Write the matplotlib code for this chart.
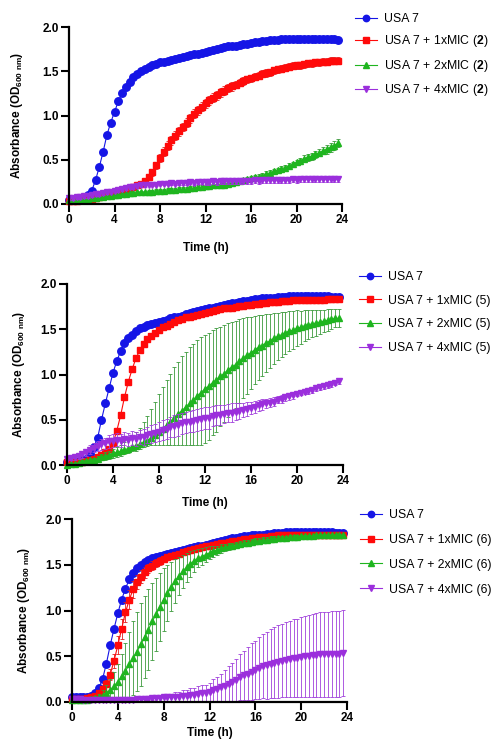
import matplotlib
matplotlib.use("Agg")
import matplotlib.pyplot as plt
from matplotlib.lines import Line2D
import numpy as np

plt.rcParams["font.family"] = ["Liberation Sans", "DejaVu Sans"]
plt.rcParams["mathtext.fontset"] = "custom"
plt.rcParams["mathtext.rm"] = "Liberation Sans"
plt.rcParams["mathtext.bf"] = "Liberation Sans:bold"
plt.rcParams["mathtext.default"] = "regular"

# sampling times (minutes), one reading every 20 min
TIME_MIN = [0, 20, 40, 60, 80, 100, 120, 140, 160, 180, 200, 220,
            240, 260, 280, 300, 320, 340, 360, 380, 400, 420, 440, 460,
            480, 500, 520, 540, 560, 580, 600, 620, 640, 660, 680, 700,
            720, 740, 760, 780, 800, 820, 840, 860, 880, 900, 920, 940,
            960, 980, 1000, 1020, 1040, 1060, 1080, 1100, 1120, 1140,
            1160, 1180, 1200, 1220, 1240, 1260, 1280, 1300, 1320, 1340,
            1360, 1380, 1400, 1420]

# ---- panel 1: MIC (2) ----
P1_USA7 = [0.05, 0.05, 0.05, 0.06, 0.07, 0.10, 0.15, 0.27, 0.42, 0.59, 0.78, 0.92,
           1.04, 1.16, 1.25, 1.32, 1.38, 1.43, 1.47, 1.50, 1.53, 1.55, 1.57, 1.58,
           1.60, 1.61, 1.62, 1.63, 1.64, 1.65, 1.66, 1.67, 1.68, 1.69, 1.70, 1.71,
           1.72, 1.73, 1.74, 1.75, 1.76, 1.77, 1.78, 1.79, 1.79, 1.80, 1.81, 1.81,
           1.82, 1.83, 1.83, 1.84, 1.84, 1.85, 1.85, 1.85, 1.86, 1.86, 1.86, 1.86,
           1.86, 1.86, 1.86, 1.86, 1.86, 1.86, 1.86, 1.86, 1.86, 1.86, 1.86, 1.85]
P1_MIC1 = [0.03, 0.03, 0.03, 0.04, 0.04, 0.05, 0.06, 0.07, 0.08, 0.10, 0.11, 0.12,
           0.14, 0.15, 0.16, 0.17, 0.18, 0.19, 0.21, 0.23, 0.26, 0.30, 0.36, 0.44,
           0.52, 0.59, 0.66, 0.72, 0.77, 0.82, 0.87, 0.92, 0.97, 1.02, 1.06, 1.10,
           1.14, 1.17, 1.20, 1.23, 1.26, 1.28, 1.31, 1.33, 1.35, 1.37, 1.39, 1.41,
           1.42, 1.44, 1.45, 1.47, 1.48, 1.49, 1.51, 1.52, 1.53, 1.54, 1.55, 1.56,
           1.57, 1.57, 1.58, 1.59, 1.59, 1.60, 1.60, 1.61, 1.61, 1.62, 1.62, 1.62]
P1_MIC1_SD = [0.01, 0.01, 0.01, 0.01, 0.01, 0.01, 0.01, 0.01, 0.01, 0.01, 0.01, 0.01,
              0.01, 0.01, 0.01, 0.01, 0.01, 0.02, 0.02, 0.02, 0.03, 0.03, 0.04, 0.04,
              0.05, 0.05, 0.05, 0.05, 0.05, 0.05, 0.05, 0.05, 0.05, 0.05, 0.05, 0.05,
              0.05, 0.05, 0.05, 0.05, 0.05, 0.05, 0.05, 0.05, 0.04, 0.04, 0.04, 0.04,
              0.04, 0.04, 0.04, 0.04, 0.04, 0.04, 0.04, 0.04, 0.04, 0.04, 0.04, 0.04,
              0.04, 0.04, 0.04, 0.04, 0.04, 0.04, 0.04, 0.04, 0.04, 0.04, 0.04, 0.04]
P1_MIC2 = [0.04, 0.04, 0.05, 0.05, 0.06, 0.06, 0.07, 0.07, 0.08, 0.08, 0.09, 0.09,
           0.10, 0.10, 0.11, 0.11, 0.12, 0.12, 0.13, 0.13, 0.13, 0.14, 0.14, 0.15,
           0.15, 0.15, 0.16, 0.16, 0.16, 0.17, 0.17, 0.17, 0.18, 0.18, 0.19, 0.19,
           0.20, 0.20, 0.21, 0.21, 0.22, 0.22, 0.23, 0.24, 0.25, 0.26, 0.27, 0.28,
           0.29, 0.30, 0.31, 0.32, 0.34, 0.35, 0.37, 0.38, 0.40, 0.41, 0.43, 0.45,
           0.47, 0.49, 0.51, 0.53, 0.54, 0.56, 0.58, 0.60, 0.62, 0.64, 0.66, 0.69]
P1_MIC2_SD = [0.01, 0.01, 0.01, 0.01, 0.01, 0.01, 0.01, 0.01, 0.01, 0.01, 0.01, 0.01,
              0.01, 0.01, 0.01, 0.01, 0.01, 0.01, 0.02, 0.02, 0.02, 0.02, 0.02, 0.02,
              0.02, 0.02, 0.02, 0.02, 0.02, 0.02, 0.02, 0.02, 0.02, 0.02, 0.02, 0.02,
              0.02, 0.02, 0.02, 0.02, 0.02, 0.02, 0.02, 0.02, 0.02, 0.02, 0.02, 0.02,
              0.03, 0.03, 0.03, 0.03, 0.03, 0.03, 0.03, 0.03, 0.03, 0.03, 0.03, 0.03,
              0.03, 0.03, 0.04, 0.04, 0.04, 0.04, 0.04, 0.04, 0.05, 0.05, 0.05, 0.05]
P1_MIC4 = [0.07, 0.07, 0.08, 0.08, 0.09, 0.09, 0.10, 0.11, 0.11, 0.12, 0.13, 0.14,
           0.15, 0.16, 0.17, 0.18, 0.19, 0.19, 0.20, 0.21, 0.21, 0.22, 0.22, 0.22,
           0.23, 0.23, 0.23, 0.24, 0.23, 0.24, 0.24, 0.24, 0.25, 0.24, 0.25, 0.25,
           0.25, 0.25, 0.26, 0.25, 0.26, 0.26, 0.26, 0.26, 0.26, 0.26, 0.26, 0.26,
           0.26, 0.27, 0.26, 0.27, 0.27, 0.27, 0.27, 0.27, 0.27, 0.27, 0.27, 0.28,
           0.27, 0.28, 0.28, 0.28, 0.28, 0.28, 0.28, 0.28, 0.28, 0.28, 0.28, 0.28]
P1_MIC4_SD = [0.02] * 36 + [0.03] * 36

# ---- panel 2: MIC (5) ----
P2_USA7 = [0.03, 0.03, 0.03, 0.04, 0.05, 0.07, 0.12, 0.20, 0.30, 0.50, 0.68, 0.85,
           1.02, 1.15, 1.26, 1.35, 1.40, 1.44, 1.48, 1.51, 1.53, 1.55, 1.56, 1.57,
           1.58, 1.59, 1.60, 1.62, 1.63, 1.64, 1.65, 1.67, 1.68, 1.69, 1.70, 1.71,
           1.72, 1.73, 1.74, 1.75, 1.76, 1.77, 1.78, 1.79, 1.79, 1.80, 1.81, 1.81,
           1.82, 1.83, 1.83, 1.84, 1.84, 1.85, 1.85, 1.86, 1.86, 1.86, 1.87, 1.87,
           1.87, 1.87, 1.87, 1.87, 1.87, 1.87, 1.87, 1.87, 1.87, 1.86, 1.86, 1.86]
P2_MIC1 = [0.03, 0.03, 0.03, 0.03, 0.03, 0.04, 0.05, 0.07, 0.09, 0.11, 0.14, 0.18,
           0.24, 0.38, 0.55, 0.75, 0.92, 1.06, 1.18, 1.27, 1.34, 1.39, 1.43, 1.46,
           1.49, 1.52, 1.54, 1.56, 1.58, 1.60, 1.61, 1.63, 1.64, 1.65, 1.66, 1.67,
           1.68, 1.69, 1.70, 1.71, 1.72, 1.73, 1.74, 1.74, 1.75, 1.76, 1.76, 1.77,
           1.77, 1.78, 1.78, 1.79, 1.79, 1.80, 1.80, 1.80, 1.81, 1.81, 1.81, 1.82,
           1.82, 1.82, 1.82, 1.82, 1.82, 1.82, 1.82, 1.82, 1.83, 1.83, 1.83, 1.83]
P2_MIC1_SD = [0.01] * 12 + [0.03] * 60
P2_MIC2 = [0.00, 0.01, 0.01, 0.02, 0.03, 0.04, 0.05, 0.06, 0.07, 0.09, 0.10, 0.11,
           0.13, 0.14, 0.15, 0.17, 0.18, 0.20, 0.21, 0.23, 0.25, 0.27, 0.30, 0.33,
           0.36, 0.40, 0.44, 0.48, 0.52, 0.56, 0.60, 0.64, 0.68, 0.72, 0.76, 0.80,
           0.84, 0.87, 0.91, 0.94, 0.98, 1.01, 1.05, 1.08, 1.11, 1.15, 1.18, 1.21,
           1.24, 1.27, 1.30, 1.32, 1.35, 1.37, 1.40, 1.42, 1.44, 1.46, 1.48, 1.49,
           1.51, 1.52, 1.54, 1.55, 1.56, 1.57, 1.58, 1.59, 1.60, 1.61, 1.62, 1.62]
# upper and lower bar lengths as drawn
P2_MIC2_SD_UP = [0.01, 0.01, 0.01, 0.01, 0.02, 0.02, 0.02, 0.02, 0.03, 0.03, 0.04, 0.04,
                 0.05, 0.06, 0.07, 0.08, 0.10, 0.12, 0.15, 0.18, 0.22, 0.27, 0.32, 0.37,
                 0.42, 0.46, 0.50, 0.53, 0.56, 0.58, 0.60, 0.61, 0.62, 0.62, 0.62, 0.61,
                 0.60, 0.59, 0.58, 0.57, 0.55, 0.54, 0.52, 0.50, 0.48, 0.46, 0.44, 0.42,
                 0.40, 0.38, 0.36, 0.34, 0.32, 0.30, 0.28, 0.26, 0.25, 0.23, 0.22, 0.21,
                 0.20, 0.18, 0.17, 0.16, 0.15, 0.14, 0.13, 0.12, 0.12, 0.11, 0.10, 0.10]
P2_MIC2_SD_LO = [0.00, 0.01, 0.01, 0.01, 0.02, 0.02, 0.02, 0.02, 0.03, 0.03, 0.04, 0.04,
                 0.05, 0.05, 0.05, 0.05, 0.05, 0.05, 0.05, 0.05, 0.05, 0.06, 0.08, 0.11,
                 0.14, 0.18, 0.22, 0.26, 0.30, 0.34, 0.38, 0.42, 0.46, 0.50, 0.54, 0.58,
                 0.60, 0.59, 0.58, 0.57, 0.55, 0.54, 0.52, 0.50, 0.48, 0.46, 0.44, 0.42,
                 0.40, 0.38, 0.36, 0.34, 0.32, 0.30, 0.28, 0.26, 0.25, 0.23, 0.22, 0.21,
                 0.20, 0.18, 0.17, 0.16, 0.15, 0.14, 0.13, 0.12, 0.12, 0.11, 0.10, 0.10]
P2_MIC4 = [0.07, 0.08, 0.09, 0.10, 0.12, 0.14, 0.17, 0.19, 0.21, 0.23, 0.24, 0.26,
           0.27, 0.28, 0.27, 0.29, 0.28, 0.30, 0.29, 0.31, 0.31, 0.33, 0.34, 0.35,
           0.37, 0.39, 0.40, 0.42, 0.43, 0.44, 0.46, 0.47, 0.48, 0.49, 0.50, 0.51,
           0.52, 0.52, 0.54, 0.55, 0.55, 0.56, 0.57, 0.58, 0.59, 0.60, 0.61, 0.62,
           0.63, 0.64, 0.66, 0.67, 0.68, 0.69, 0.70, 0.72, 0.73, 0.75, 0.76, 0.77,
           0.79, 0.80, 0.81, 0.82, 0.83, 0.85, 0.86, 0.87, 0.88, 0.89, 0.91, 0.93]
P2_MIC4_SD = [0.02, 0.02, 0.03, 0.03, 0.04, 0.04, 0.05, 0.05, 0.06, 0.06, 0.06, 0.07,
              0.07, 0.07, 0.07, 0.07, 0.07, 0.08, 0.08, 0.08, 0.09, 0.09, 0.10, 0.10,
              0.10, 0.11, 0.11, 0.11, 0.12, 0.12, 0.12, 0.12, 0.12, 0.12, 0.12, 0.12,
              0.12, 0.12, 0.11, 0.11, 0.11, 0.10, 0.10, 0.10, 0.09, 0.09, 0.08, 0.08,
              0.07, 0.07, 0.06, 0.06, 0.05, 0.05, 0.05, 0.04, 0.04, 0.04, 0.04, 0.04,
              0.03, 0.03, 0.03, 0.03, 0.03, 0.03, 0.03, 0.03, 0.03, 0.03, 0.03, 0.03]

# ---- panel 3: MIC (6) ----
P3_USA7 = [0.05, 0.05, 0.05, 0.05, 0.06, 0.07, 0.10, 0.15, 0.25, 0.42, 0.62, 0.80,
           0.97, 1.12, 1.24, 1.34, 1.41, 1.46, 1.50, 1.53, 1.55, 1.57, 1.59, 1.60,
           1.61, 1.62, 1.63, 1.64, 1.65, 1.66, 1.67, 1.68, 1.69, 1.70, 1.71, 1.72,
           1.73, 1.74, 1.75, 1.76, 1.77, 1.78, 1.79, 1.79, 1.80, 1.81, 1.81, 1.82,
           1.82, 1.83, 1.83, 1.84, 1.84, 1.85, 1.85, 1.85, 1.86, 1.86, 1.86, 1.86,
           1.86, 1.86, 1.86, 1.86, 1.86, 1.86, 1.86, 1.86, 1.86, 1.85, 1.85, 1.85]
P3_MIC1 = [0.03, 0.03, 0.03, 0.03, 0.04, 0.05, 0.07, 0.10, 0.14, 0.20, 0.30, 0.45,
           0.62, 0.80, 0.98, 1.12, 1.23, 1.31, 1.37, 1.42, 1.46, 1.49, 1.52, 1.54,
           1.56, 1.58, 1.60, 1.61, 1.62, 1.64, 1.65, 1.66, 1.67, 1.68, 1.69, 1.70,
           1.71, 1.72, 1.73, 1.74, 1.74, 1.75, 1.76, 1.76, 1.77, 1.78, 1.78, 1.79,
           1.79, 1.80, 1.80, 1.80, 1.81, 1.81, 1.82, 1.82, 1.82, 1.83, 1.83, 1.83,
           1.83, 1.83, 1.83, 1.83, 1.83, 1.83, 1.83, 1.83, 1.83, 1.83, 1.83, 1.83]
P3_MIC1_SD = [0.01, 0.01, 0.01, 0.01, 0.01, 0.01, 0.02, 0.02, 0.03, 0.04, 0.06, 0.08,
              0.10, 0.11, 0.11, 0.10, 0.09, 0.08, 0.07, 0.06, 0.05, 0.05, 0.04, 0.04,
              0.03, 0.03, 0.03, 0.03, 0.03, 0.03, 0.03, 0.03, 0.03, 0.03, 0.03, 0.03,
              0.02, 0.02, 0.02, 0.02, 0.02, 0.02, 0.02, 0.02, 0.02, 0.02, 0.02, 0.02,
              0.02, 0.02, 0.02, 0.02, 0.02, 0.02, 0.02, 0.02, 0.02, 0.02, 0.02, 0.02,
              0.02, 0.02, 0.02, 0.02, 0.02, 0.02, 0.02, 0.02, 0.02, 0.02, 0.02, 0.02]
P3_MIC2 = [0.02, 0.02, 0.02, 0.02, 0.02, 0.03, 0.04, 0.05, 0.07, 0.10, 0.13, 0.17,
           0.22, 0.28, 0.34, 0.41, 0.48, 0.55, 0.63, 0.71, 0.79, 0.88, 0.96, 1.04,
           1.12, 1.19, 1.26, 1.32, 1.38, 1.43, 1.47, 1.51, 1.54, 1.57, 1.59, 1.61,
           1.63, 1.65, 1.66, 1.68, 1.69, 1.70, 1.71, 1.72, 1.73, 1.74, 1.74, 1.75,
           1.76, 1.76, 1.77, 1.77, 1.78, 1.78, 1.79, 1.79, 1.79, 1.80, 1.80, 1.80,
           1.81, 1.81, 1.81, 1.81, 1.82, 1.82, 1.82, 1.82, 1.82, 1.82, 1.82, 1.82]
P3_MIC2_SD = [0.01, 0.01, 0.01, 0.01, 0.01, 0.02, 0.03, 0.04, 0.06, 0.09, 0.12, 0.16,
              0.20, 0.25, 0.30, 0.35, 0.40, 0.43, 0.45, 0.45, 0.44, 0.42, 0.40, 0.37,
              0.34, 0.31, 0.27, 0.24, 0.21, 0.18, 0.16, 0.14, 0.12, 0.10, 0.09, 0.08,
              0.07, 0.06, 0.05, 0.05, 0.04, 0.04, 0.03, 0.03, 0.03, 0.03, 0.03, 0.03,
              0.03, 0.03, 0.03, 0.03, 0.03, 0.03, 0.02, 0.02, 0.02, 0.02, 0.02, 0.02,
              0.02, 0.02, 0.02, 0.02, 0.02, 0.02, 0.02, 0.02, 0.02, 0.02, 0.02, 0.02]
P3_MIC4 = [0.03, 0.03, 0.03, 0.02, 0.02, 0.02, 0.02, 0.02, 0.02, 0.02, 0.02, 0.02,
           0.02, 0.02, 0.02, 0.02, 0.02, 0.03, 0.03, 0.03, 0.03, 0.04, 0.04, 0.04,
           0.05, 0.05, 0.05, 0.06, 0.06, 0.07, 0.07, 0.08, 0.08, 0.09, 0.10, 0.10,
           0.11, 0.13, 0.14, 0.16, 0.18, 0.20, 0.22, 0.24, 0.27, 0.29, 0.31, 0.33,
           0.35, 0.37, 0.39, 0.40, 0.42, 0.43, 0.44, 0.45, 0.46, 0.47, 0.48, 0.48,
           0.49, 0.50, 0.50, 0.51, 0.51, 0.52, 0.52, 0.52, 0.53, 0.53, 0.53, 0.54]
P3_MIC4_SD = [0.01, 0.01, 0.01, 0.01, 0.01, 0.01, 0.01, 0.01, 0.01, 0.01, 0.01, 0.01,
              0.01, 0.01, 0.01, 0.01, 0.02, 0.02, 0.02, 0.02, 0.02, 0.02, 0.03, 0.03,
              0.04, 0.04, 0.04, 0.05, 0.05, 0.06, 0.06, 0.07, 0.07, 0.08, 0.09, 0.09,
              0.10, 0.12, 0.13, 0.15, 0.17, 0.19, 0.21, 0.23, 0.25, 0.27, 0.29, 0.31,
              0.32, 0.34, 0.35, 0.37, 0.38, 0.39, 0.40, 0.40, 0.41, 0.42, 0.43, 0.43,
              0.44, 0.44, 0.45, 0.45, 0.46, 0.46, 0.46, 0.46, 0.47, 0.47, 0.47, 0.47]

X_TICKS = [0, 4, 8, 12, 16, 20, 24]
Y_TICKS = [0.0, 0.5, 1.0, 1.5, 2.0]

BLUE = "#1515e6"
RED = "#ff0a0a"
GREEN = "#1fb51f"
PURPLE = "#9b2fdc"

STYLES = [
    (BLUE, "o", 5.4),
    (RED, "s", 4.8),
    (GREEN, "^", 5.0),
    (PURPLE, "v", 5.0),
]
ERR_COLORS = [BLUE, "#e02020", "#3b9a3b", "#a040dc"]

hours = np.array(TIME_MIN) / 60.0

fig = plt.figure(figsize=(4.96, 7.49), dpi=100)
W, H = 496.0, 749.0

# pixel boxes: (left, right, y of 0.0, y of 2.0); legend (x, top)
panels = [
    dict(box=(69, 342, 204, 27), leg=(355, 13), spacing=0.69, tag=r"($\mathbf{2}$)",
         xpad=11, ypad=12,
         series=[(P1_USA7, None), (P1_MIC1, P1_MIC1_SD), (P1_MIC2, P1_MIC2_SD), (P1_MIC4, P1_MIC4_SD)]),
    dict(box=(67, 343, 465, 284), leg=(359, 271), spacing=0.95, tag="(5)",
         xpad=7, ypad=9.5,
         series=[(P2_USA7, None), (P2_MIC1, P2_MIC1_SD),
                 (P2_MIC2, [P2_MIC2_SD_LO, P2_MIC2_SD_UP]), (P2_MIC4, P2_MIC4_SD)]),
    dict(box=(72, 347, 702, 519), leg=(360, 509), spacing=1.05, tag="(6)",
         xpad=2, ypad=9.5,
         series=[(P3_USA7, None), (P3_MIC1, P3_MIC1_SD), (P3_MIC2, P3_MIC2_SD), (P3_MIC4, P3_MIC4_SD)]),
]

for p in panels:
    l, r, y0, y2 = p["box"]
    ax = fig.add_axes([l / W, 1 - y0 / H, (r - l) / W, (y0 - y2) / H])
    for k, (vals, sd) in enumerate(p["series"]):
        color, mk, ms = STYLES[k]
        if sd is not None:
            ax.errorbar(hours, vals, yerr=sd, fmt="none", ecolor=ERR_COLORS[k],
                        elinewidth=0.6, capsize=1.6, capthick=0.6, zorder=2 + k, clip_on=False)
        ax.plot(hours, vals, color=color, lw=0.8, marker=mk, ms=ms, mec=color,
                zorder=3 + k, clip_on=False)
    ax.set_xlim(0, 24)
    ax.set_ylim(0, 2.0)
    ax.set_xticks(X_TICKS)
    ax.set_yticks(Y_TICKS)
    ax.set_yticklabels([f"{v:.1f}" for v in Y_TICKS])
    for s in ["top", "right"]:
        ax.spines[s].set_visible(False)
    for s in ["left", "bottom"]:
        ax.spines[s].set_linewidth(1.6)
        ax.spines[s].set_zorder(10)
    ax.tick_params(width=1.5, length=5.5, pad=2, labelsize=8.5)
    for lab in ax.get_xticklabels() + ax.get_yticklabels():
        lab.set_fontweight("bold")
    ax.set_xlabel("Time (h)", fontsize=8.5, fontweight="bold", labelpad=p["xpad"])
    ax.set_ylabel(r"Absorbance (OD$_{600\ nm}$)", fontsize=8.5, fontweight="bold",
                  labelpad=p["ypad"])

    labels = ["USA 7",
              "USA 7 + 1xMIC " + p["tag"],
              "USA 7 + 2xMIC " + p["tag"],
              "USA 7 + 4xMIC " + p["tag"]]
    handles = [Line2D([], [], color=c, marker=m, ms=s * 0.85, lw=0.8) for c, m, s in STYLES]
    lx, ly = p["leg"]
    fig.legend(handles, labels, loc="upper left", bbox_to_anchor=(lx / W, 1 - ly / H),
               frameon=False, fontsize=8.8, handlelength=1.8, handletextpad=0.6,
               labelspacing=p["spacing"], borderpad=0, borderaxespad=0, numpoints=1)

fig.savefig("out.png", dpi=100)
